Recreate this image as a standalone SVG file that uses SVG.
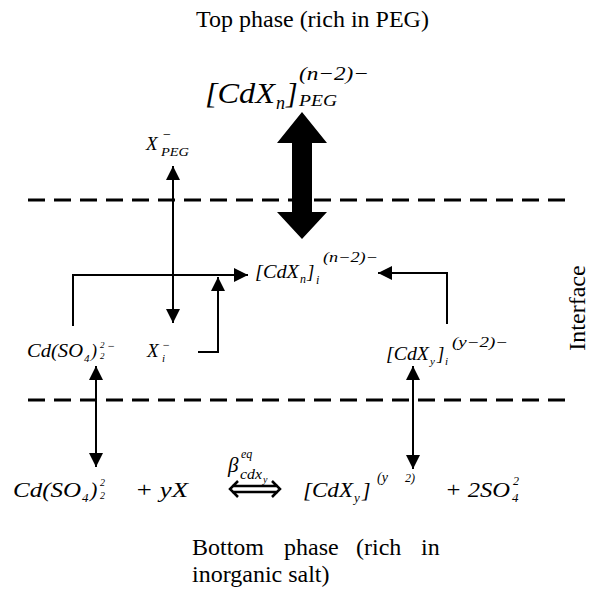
<svg xmlns="http://www.w3.org/2000/svg" width="591" height="590" viewBox="0 0 591 590">
<style>
.t{font-family:"Liberation Serif","Times New Roman",serif;font-size:24px;fill:#000}
.m{font-family:"Liberation Serif","Times New Roman",serif;font-style:italic;fill:#000}
.dash{stroke:#000;stroke-width:3;stroke-dasharray:17 9;fill:none}
.c{stroke:#000;stroke-width:2;fill:none}
</style>
<defs>
<marker id="ah" markerUnits="userSpaceOnUse" markerWidth="16" markerHeight="16" refX="14" refY="7" orient="auto-start-reverse">
<path d="M0,0 L14,7 L0,14 Z" fill="#000"/>
</marker>
</defs>
<rect width="591" height="590" fill="#fff"/>

<g id="top-label"><text class="t" x="196" y="27">Top phase (rich in PEG)</text></g>
<g id="bottom-label">
<text class="t" x="192" y="555">Bottom</text>
<text class="t" x="284" y="555">phase</text>
<text class="t" x="356" y="555">(rich</text>
<text class="t" x="421" y="555">in</text>
<text class="t" x="192" y="582">inorganic salt)</text>
</g>
<g id="interface-label"><text class="t" transform="translate(585,308) rotate(-90)" text-anchor="middle">Interface</text></g>

<g id="dashed-lines">
<line class="dash" x1="28" y1="200" x2="572" y2="200"/>
<line class="dash" x1="28" y1="400" x2="572" y2="400"/>
</g>

<g id="node-cdxn-peg">
<text class="m" x="205" y="103" font-size="30" textLength="70" lengthAdjust="spacingAndGlyphs">[CdX</text>
<text class="m" x="276" y="109" font-size="18">n</text>
<text class="m" x="286" y="103" font-size="30">]</text>
<text class="m" x="299" y="80" font-size="19" textLength="70" lengthAdjust="spacingAndGlyphs">(n−2)−</text>
<text class="m" x="299" y="106" font-size="16" textLength="38" lengthAdjust="spacingAndGlyphs">PEG</text>
</g>

<g id="node-x-peg">
<text class="m" x="146" y="150" font-size="19">X</text>
<text class="m" x="162" y="139" font-size="14">−</text>
<text class="m" x="161" y="156" font-size="12" textLength="28" lengthAdjust="spacingAndGlyphs">PEG</text>
</g>

<g id="node-cdxn-i">
<text class="m" x="255" y="278" font-size="19" textLength="44" lengthAdjust="spacingAndGlyphs">[CdX</text>
<text class="m" x="300" y="283" font-size="12">n</text>
<text class="m" x="307" y="278" font-size="19">]</text>
<text class="m" x="316" y="284" font-size="12">i</text>
<text class="m" x="323" y="262" font-size="14" textLength="55" lengthAdjust="spacingAndGlyphs">(n−2)−</text>
</g>

<g id="node-cdso4-i">
<text class="m" x="27" y="357" font-size="18" textLength="56" lengthAdjust="spacingAndGlyphs">Cd(SO</text>
<text class="m" x="84" y="362" font-size="11">4</text>
<text class="m" x="91" y="357" font-size="18">)</text>
<text class="m" x="100" y="348" font-size="9">2</text>
<text class="m" x="100" y="359" font-size="9">2</text>
<text class="m" x="107" y="350" font-size="12">−</text>
</g>

<g id="node-x-i">
<text class="m" x="147" y="357" font-size="19">X</text>
<text class="m" x="162" y="349" font-size="12">−</text>
<text class="m" x="162" y="362" font-size="11">i</text>
</g>

<g id="node-cdxy-i">
<text class="m" x="386" y="360" font-size="19" textLength="43" lengthAdjust="spacingAndGlyphs">[CdX</text>
<text class="m" x="430" y="365" font-size="11">y</text>
<text class="m" x="437" y="360" font-size="19">]</text>
<text class="m" x="445" y="365" font-size="11">i</text>
<text class="m" x="452" y="347" font-size="14" textLength="56" lengthAdjust="spacingAndGlyphs">(y−2)−</text>
</g>

<g id="node-bottom-equation">
<text class="m" x="13" y="497" font-size="22" textLength="68" lengthAdjust="spacingAndGlyphs">Cd(SO</text>
<text class="m" x="82" y="502" font-size="13">4</text>
<text class="m" x="90" y="497" font-size="22">)</text>
<text class="m" x="100" y="486" font-size="10">2</text>
<text class="m" x="100" y="499" font-size="10">2</text>
<text class="m" x="135" y="497" font-size="22" textLength="53" lengthAdjust="spacingAndGlyphs">+ yX</text>
<text class="m" x="228" y="472" font-size="21">β</text>
<text class="m" x="241" y="458" font-size="12">eq</text>
<text class="m" x="240" y="479" font-size="14" textLength="22" lengthAdjust="spacingAndGlyphs">cdx</text>
<text class="m" x="263" y="483" font-size="10">y</text>
<path d="M232,486 H278 M232,492 H278 M238,481 L230,489 L238,497 M272,481 L280,489 L272,497" stroke="#000" stroke-width="2.5" fill="none"/>
<text class="m" x="303" y="497" font-size="22" textLength="50" lengthAdjust="spacingAndGlyphs">[CdX</text>
<text class="m" x="354" y="502" font-size="13">y</text>
<text class="m" x="362" y="497" font-size="22">]</text>
<text class="m" x="377" y="482" font-size="14">(y</text>
<text class="m" x="405" y="482" font-size="12">2)</text>
<text class="m" x="445" y="497" font-size="22" textLength="65" lengthAdjust="spacingAndGlyphs">+ 2SO</text>
<text class="m" x="512" y="502" font-size="13">4</text>
<text class="m" x="513" y="485" font-size="12">2</text>
</g>

<g id="connectors">
<polygon points="302,112 327,143 312,143 312,212 327,212 302,239 277,212 292,212 292,143 277,143" fill="#000"/>
<line class="c" x1="173" y1="166" x2="173" y2="323" marker-start="url(#ah)" marker-end="url(#ah)"/>
<path class="c" d="M73,326 V275 H248" marker-end="url(#ah)"/>
<path class="c" d="M198,352 H218 V277" marker-end="url(#ah)"/>
<path class="c" d="M447,324 V273 H378" marker-end="url(#ah)"/>
<line class="c" x1="96" y1="366" x2="96" y2="467" marker-start="url(#ah)" marker-end="url(#ah)"/>
<line class="c" x1="413" y1="366" x2="413" y2="469" marker-start="url(#ah)" marker-end="url(#ah)"/>
</g>
</svg>
